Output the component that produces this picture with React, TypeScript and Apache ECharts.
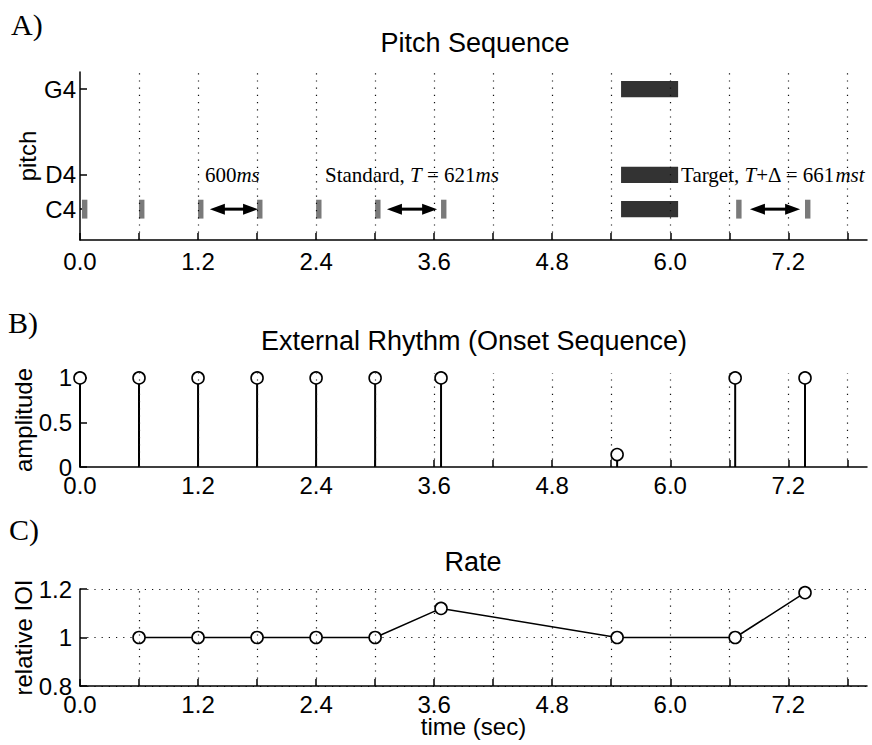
import React, { useEffect, useRef } from 'react';
import * as echarts from 'echarts';

// ---------- data ----------
const xTickValues = [0, 0.6, 1.2, 1.8, 2.4, 3.0, 3.6, 4.2, 4.8, 5.4, 6.0, 6.6, 7.2, 7.8];
const xLabelValues = [0, 1.2, 2.4, 3.6, 4.8, 6.0, 7.2];
const pitchTickValues = [60, 62, 67];
const pitchTickLabels = ['C4', 'D4', 'G4'];

// short C4 tones (onset times, seconds)
const toneStarts = [0.02, 0.6, 1.2, 1.8, 2.4, 3.0, 3.67, 6.67, 7.37];
const toneDuration = 0.055;
const tonePitch = 60;
// distractor chord
const chordStart = 5.5;
const chordEnd = 6.08;
const chordPitches = [60, 62, 67];

// double arrows [from, to] at C4
const arrowSpans = [
  [1.32, 1.81],
  [3.12, 3.63],
  [6.81, 7.32],
];
const arrowPitch = 60;

const annotationTexts = [
  '{r|600}{i|ms}',
  '{r|Standard, }{i|T}{r| = 621}{i|ms}',
  '{r|Target, }{i|T}{r|+Δ = 661}{i|mst}',
];
const annotationX = [1.27, 2.49, 6.11];
const annotationPitch = 62;

const onsetTimes = [0, 0.6, 1.2, 1.8, 2.4, 3.0, 3.67, 5.46, 6.66, 7.37];
const onsetAmplitudes = [1, 1, 1, 1, 1, 1, 1, 0.14, 1, 1];

const rateTimes = [0.6, 1.2, 1.8, 2.4, 3.0, 3.67, 5.46, 6.66, 7.37];
const rateValues = [1, 1, 1, 1, 1, 1.12, 1.0, 1.0, 1.185];

// ---------- style ----------
const SANS = '"Liberation Sans", Arial, Helvetica, sans-serif';
const SERIF = '"Liberation Serif", "Times New Roman", serif';
const DOT: number[] = [1.2, 6];

function buildOption() {
  const noteData: number[][] = toneStarts.map((s) => [s, s + toneDuration, tonePitch]);
  chordPitches.forEach((p) => noteData.push([chordStart, chordEnd, p]));

  const vGrid = {
    silent: true,
    symbol: 'none',
    label: { show: false },
    lineStyle: { type: DOT, color: '#111', width: 1.2 },
    data: xTickValues.filter((v) => v > 0).map((v) => ({ xAxis: v })),
  };

  const xAxisFor = (gridIndex: number, margin: number, extra: any = {}) => ({
    type: 'value',
    gridIndex,
    min: 0,
    max: 8,
    axisLine: { show: true, lineStyle: { color: '#000', width: 1.5 } },
    axisTick: {
      show: true,
      inside: true,
      length: 7,
      customValues: xTickValues,
      lineStyle: { color: '#000', width: 1.5 },
    },
    axisLabel: {
      customValues: xLabelValues,
      formatter: (v: number) => v.toFixed(1),
      color: '#000',
      fontSize: 24,
      fontFamily: SANS,
      lineHeight: 20,
      margin,
    },
    splitLine: { show: false },
    ...extra,
  });

  const yBase = {
    type: 'value',
    axisLine: { show: true, lineStyle: { color: '#000', width: 1.5 } },
    axisTick: { show: true, inside: true, length: 7, lineStyle: { color: '#000', width: 1.5 } },
    nameLocation: 'middle',
    nameMoveOverlap: false,
    nameTextStyle: { color: '#000', fontSize: 24, fontFamily: SANS },
  };

  return {
    animation: false,
    backgroundColor: '#fff',
    grid: [
      { left: 80, right: 5, top: 72, height: 168 },
      { left: 80, right: 5, top: 373, height: 94 },
      { left: 80, right: 5, top: 589, height: 97 },
    ],
    xAxis: [
      xAxisFor(0, 11),
      xAxisFor(1, 8),
      xAxisFor(2, 8, {
        name: 'time (sec)',
        nameLocation: 'middle',
        nameGap: 29,
        nameMoveOverlap: false,
        nameTextStyle: { color: '#000', fontSize: 24, fontFamily: SANS, verticalAlign: 'top', lineHeight: 22 },
      }),
    ],
    yAxis: [
      {
        ...yBase,
        gridIndex: 0,
        min: 58.2,
        max: 68,
        name: 'pitch',
        nameGap: 41,
        axisTick: { ...yBase.axisTick, customValues: pitchTickValues },
        axisLabel: {
          customValues: pitchTickValues,
          formatter: (v: number) => pitchTickLabels[pitchTickValues.indexOf(Math.round(v))] || '',
          color: '#000',
          fontSize: 24,
          fontFamily: SANS,
          margin: 4,
        },
        splitLine: { show: false },
      },
      {
        ...yBase,
        gridIndex: 1,
        min: 0,
        max: 1.055,
        name: 'amplitude',
        nameGap: 45,
        axisTick: { ...yBase.axisTick, customValues: [0, 0.5, 1] },
        axisLabel: {
          customValues: [0, 0.5, 1],
          color: '#000',
          fontSize: 24,
          fontFamily: SANS,
          lineHeight: 14,
          margin: 8,
        },
        splitLine: { show: false },
      },
      {
        ...yBase,
        gridIndex: 2,
        min: 0.8,
        max: 1.2,
        interval: 0.2,
        name: 'relative IOI',
        nameGap: 45,
        axisLabel: {
          formatter: (v: number) => (Math.abs(v - 1) < 1e-9 ? '1' : v.toFixed(1)),
          color: '#000',
          fontSize: 24,
          fontFamily: SANS,
          lineHeight: 14,
          margin: 8,
        },
        splitLine: { show: true, lineStyle: { type: DOT, color: '#111', width: 1.2 } },
      },
    ],
    graphic: [
      { type: 'text', x: 11, y: 24, style: { text: 'A)', fontSize: 30, fontFamily: SERIF, fill: '#000', verticalAlign: 'middle' } },
      { type: 'text', x: 8, y: 322, style: { text: 'B)', fontSize: 30, fontFamily: SERIF, fill: '#000', verticalAlign: 'middle' } },
      { type: 'text', x: 9, y: 529, style: { text: 'C)', fontSize: 30, fontFamily: SERIF, fill: '#000', verticalAlign: 'middle' } },
      { type: 'text', x: 475, y: 43, style: { text: 'Pitch Sequence', fontSize: 27, fontFamily: SANS, fill: '#000', align: 'center', verticalAlign: 'middle' } },
      { type: 'text', x: 474, y: 341, style: { text: 'External Rhythm (Onset Sequence)', fontSize: 27, fontFamily: SANS, fill: '#000', align: 'center', verticalAlign: 'middle' } },
      { type: 'text', x: 473, y: 562, style: { text: 'Rate', fontSize: 27, fontFamily: SANS, fill: '#000', align: 'center', verticalAlign: 'middle' } },
    ],
    series: [
      // Panel A: notes
      {
        type: 'custom',
        name: 'notes',
        xAxisIndex: 0,
        yAxisIndex: 0,
        encode: { x: [0, 1], y: 2 },
        data: noteData,
        renderItem: (params: any, api: any) => {
          const s = api.value(0);
          const e = api.value(1);
          const p = api.value(2);
          const long = e - s > 0.2;
          const half = long ? 0.47 : 0.55;
          const tl = api.coord([s, p + half]);
          const br = api.coord([e, p - half]);
          return {
            type: 'rect',
            shape: { x: tl[0], y: tl[1], width: br[0] - tl[0], height: br[1] - tl[1] },
            style: { fill: long ? '#333' : '#7a7a7a' },
          };
        },
        markLine: vGrid,
        z: 3,
      },
      // Panel A: arrows
      {
        type: 'custom',
        name: 'arrows',
        xAxisIndex: 0,
        yAxisIndex: 0,
        encode: { x: [0, 1], y: 2 },
        data: arrowSpans.map((a) => [a[0], a[1], arrowPitch]),
        renderItem: (params: any, api: any) => {
          const p1 = api.coord([api.value(0), api.value(2)]);
          const p2 = api.coord([api.value(1), api.value(2)]);
          const L = 15;
          const H = 5.5;
          const y = p1[1];
          return {
            type: 'group',
            children: [
              { type: 'line', shape: { x1: p1[0] + L - 1, y1: y, x2: p2[0] - L + 1, y2: y }, style: { stroke: '#000', lineWidth: 3 } },
              { type: 'polygon', shape: { points: [[p1[0], y], [p1[0] + L, y - H], [p1[0] + L, y + H]] }, style: { fill: '#000' } },
              { type: 'polygon', shape: { points: [[p2[0], y], [p2[0] - L, y - H], [p2[0] - L, y + H]] }, style: { fill: '#000' } },
            ],
          };
        },
        z: 4,
      },
      // Panel A: annotations
      {
        type: 'custom',
        name: 'annotations',
        xAxisIndex: 0,
        yAxisIndex: 0,
        encode: { x: 0, y: 1 },
        data: annotationX.map((x, i) => [x, annotationPitch, i]),
        renderItem: (params: any, api: any) => {
          const pt = api.coord([api.value(0), api.value(1)]);
          const idx = api.value(2);
          return {
            type: 'text',
            x: pt[0],
            y: pt[1],
            style: {
              text: annotationTexts[idx],
              fill: '#000',
              verticalAlign: 'middle',
              align: 'left',
              rich: {
                r: { fontSize: 21, fontFamily: SERIF, fill: '#000' },
                i: { fontSize: 21, fontFamily: SERIF, fontStyle: 'italic', fill: '#000' },
              },
            },
          };
        },
        z: 5,
      },
      // Panel B: stems
      {
        type: 'custom',
        name: 'stems',
        xAxisIndex: 1,
        yAxisIndex: 1,
        encode: { x: 0, y: 1 },
        data: onsetTimes.map((t, i) => [t, onsetAmplitudes[i]]),
        renderItem: (params: any, api: any) => {
          const top = api.coord([api.value(0), api.value(1)]);
          const bot = api.coord([api.value(0), 0]);
          return {
            type: 'line',
            shape: { x1: top[0], y1: top[1], x2: bot[0], y2: bot[1] },
            style: { stroke: '#000', lineWidth: 2 },
          };
        },
        markLine: vGrid,
        z: 3,
      },
      {
        type: 'scatter',
        name: 'onsets',
        xAxisIndex: 1,
        yAxisIndex: 1,
        data: onsetTimes.map((t, i) => [t, onsetAmplitudes[i]]),
        symbol: 'circle',
        symbolSize: 12,
        itemStyle: { color: '#fff', borderColor: '#000', borderWidth: 1.6, opacity: 1 },
        z: 4,
      },
      // Panel C: rate
      {
        type: 'line',
        name: 'rate',
        xAxisIndex: 2,
        yAxisIndex: 2,
        data: rateTimes.map((t, i) => [t, rateValues[i]]),
        symbol: 'circle',
        symbolSize: 12,
        showSymbol: true,
        lineStyle: { color: '#000', width: 1.5 },
        itemStyle: { color: '#fff', borderColor: '#000', borderWidth: 1.6, opacity: 1 },
        markLine: vGrid,
        z: 4,
      },
    ],
  };
}

export default function App() {
  const ref = useRef<HTMLDivElement>(null);
  useEffect(() => {
    document.body.style.margin = '0';
    if (!ref.current) return;
    const chart = echarts.init(ref.current, undefined, { renderer: 'svg' });
    chart.setOption(buildOption() as any);
    return () => chart.dispose();
  }, []);
  return <div ref={ref} style={{ width: 872, height: 745, background: '#fff' }} />;
}
